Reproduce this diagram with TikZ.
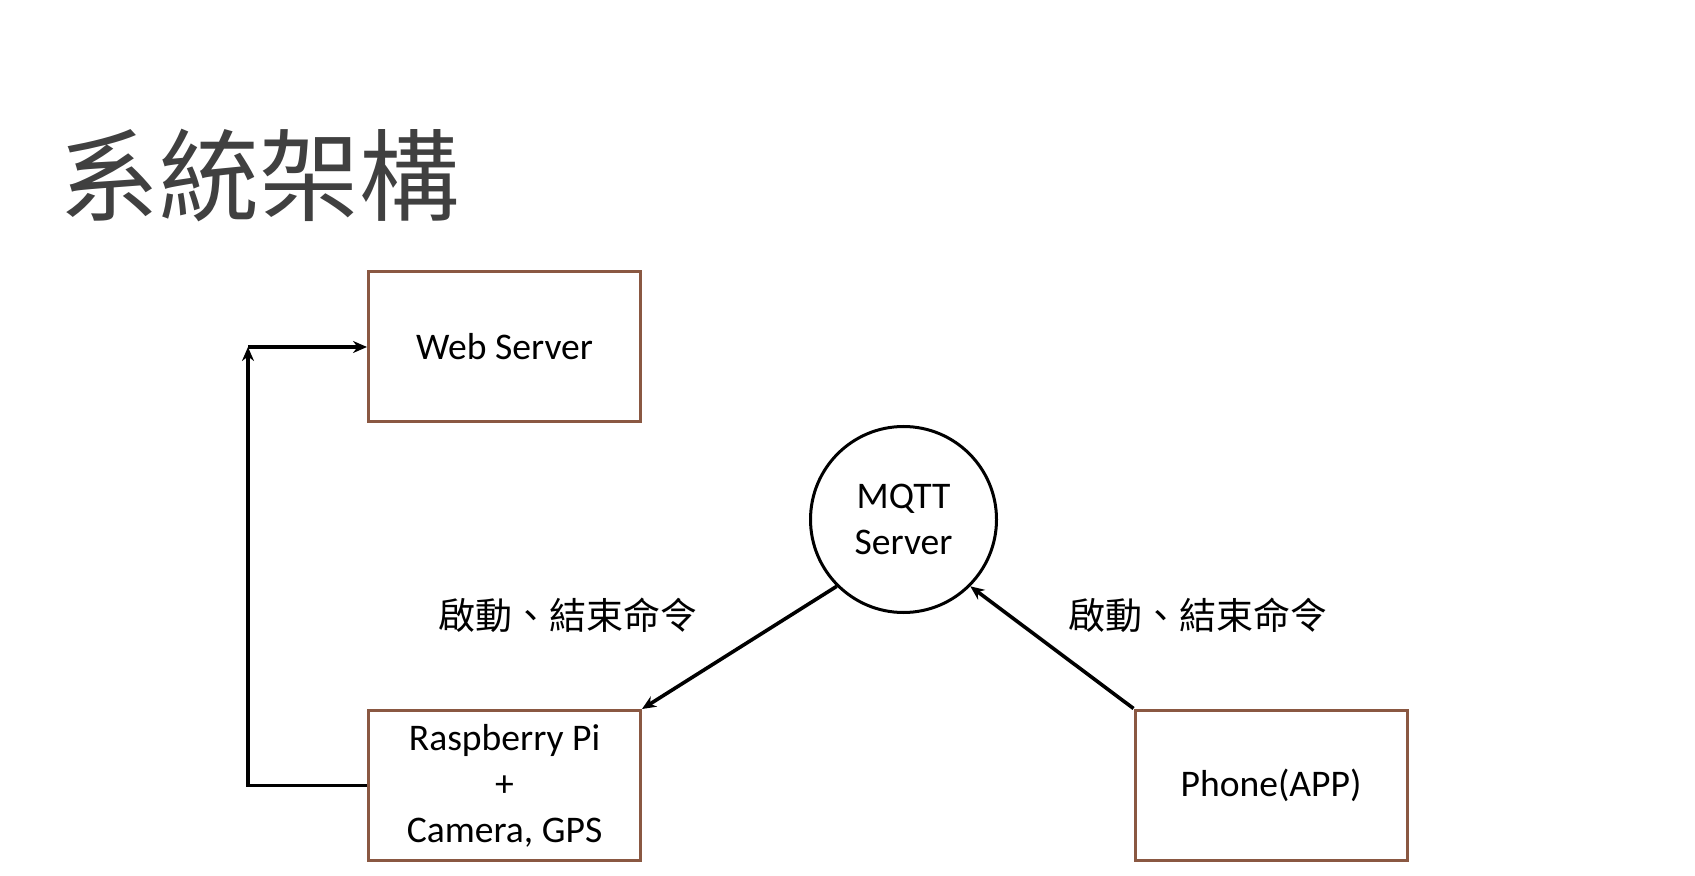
\documentclass[tikz,border=0pt]{standalone}
\usepackage{fontspec}
\setmainfont{Carlito}
\newfontfamily\cjkfont{Noto Sans CJK TC}
\usetikzlibrary{arrows.meta}
\definecolor{boxbrown}{RGB}{138,88,66}
\definecolor{titlegray}{RGB}{64,64,64}
\tikzset{
% Two node styles for the system blocks: boxes and the broker circle
box node/.style={rectangle,draw=boxbrown,line width=1.5pt,minimum width=136pt,minimum height=75pt,align=center,font=\fontsize{18.8}{23}\selectfont},
round node/.style={circle,draw,line width=1.5pt,minimum size=93pt,inner sep=0pt,align=center,font=\fontsize{18.8}{23}\selectfont},
cmd label/.style={font=\cjkfont\fontsize{18.5}{22}\selectfont},
link/.style={line width=1.8pt,-{Stealth[length=7pt,width=6pt]}}
}
\begin{document}
\begin{tikzpicture}[x=0.5pt,y=-0.5pt]
      % Page frame
      \useasboundingbox (0,0) rectangle (1695,876);
      % Title
      \node(title)[anchor=west,text=titlegray,font=\cjkfont\fontsize{50}{54}\selectfont] at (52,176) {系統架構};
      % The blocks
      \node(web)[box node] at (504.5,347) {Web Server};
      \node(rpi)[box node] at (504.5,785.5) {Raspberry Pi\\+\\Camera, GPS};
      \node(phone)[box node] at (1271,785) {Phone(APP)};
      \node(mqtt)[round node] at (903.5,519.5) {MQTT\\Server};
      % Command labels
      \node(cmdl)[cmd label] at (568,615) {啟動、結束命令};
      \node(cmdr)[cmd label] at (1198,615) {啟動、結束命令};
      % Upload path from the Pi to the web server
      \coordinate (bend) at (248,347);
      \draw[link] (rpi.west) -| (bend);
      \draw[link] (bend) -- (web.west);
      % Commands through the broker
      \draw[link] (mqtt.225) -- (rpi.north east);
      \draw[link] (phone.north west) -- (mqtt.-45);
\end{tikzpicture}
\end{document}
